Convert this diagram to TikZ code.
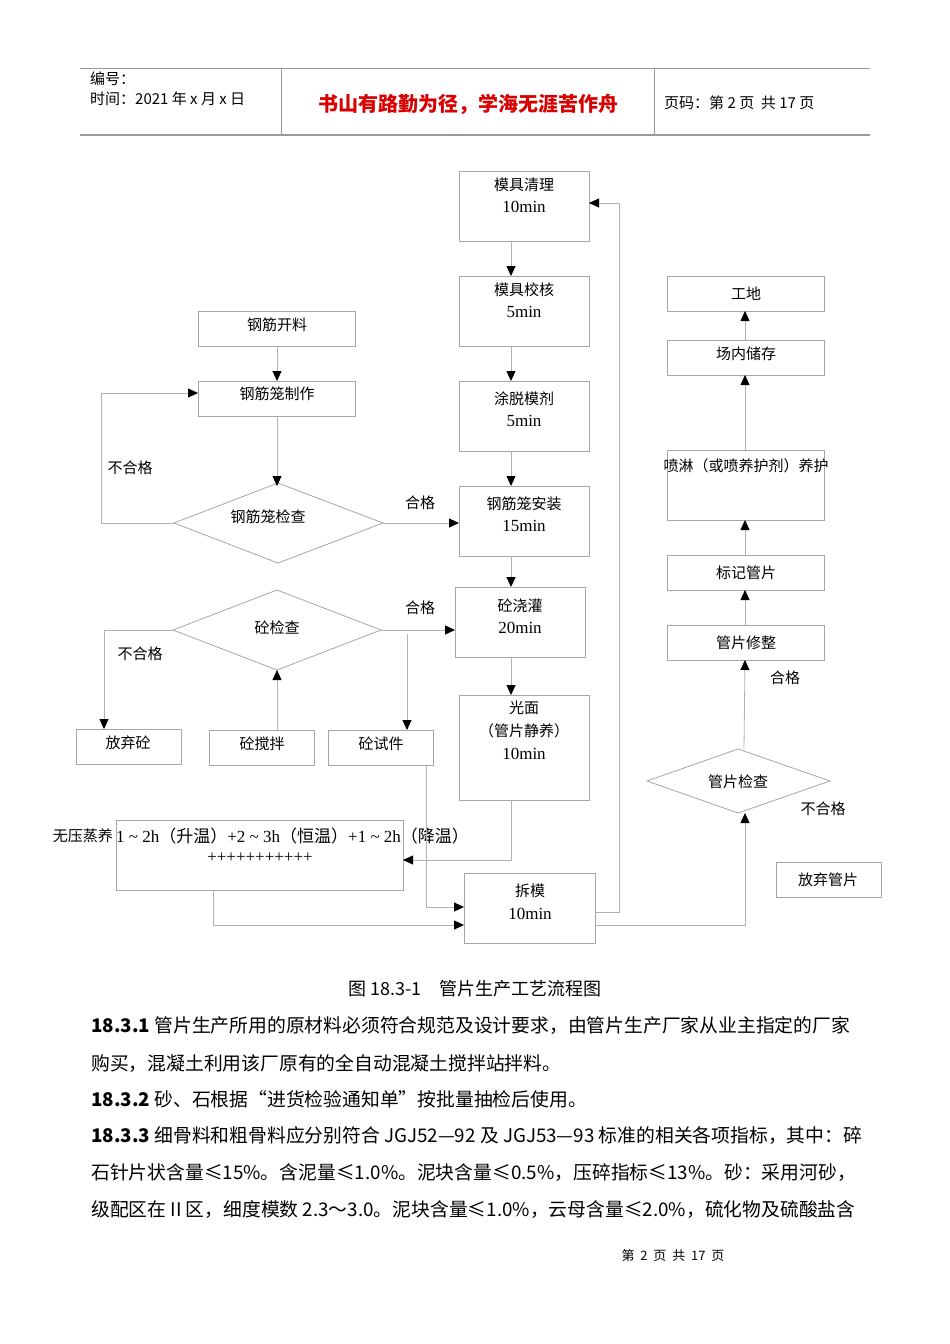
\documentclass[tikz,border=0pt]{standalone}
\usepackage{fontspec}
\setmainfont{Liberation Serif}
\newfontfamily\cjk{Noto Sans CJK SC}
\newfontfamily\cjs{Noto Sans CJK SC}
\usetikzlibrary{arrows.meta}
\begin{document}
\begin{tikzpicture}[x=1pt,y=-1pt,
  bx/.style={draw=gray!70,line width=0.8pt},
  ln/.style={draw=gray!60,line width=0.8pt},
  ar/.style={ln,-{Triangle[length=10pt,width=9pt,fill=black,color=black]}},
  t/.style={font=\cjk\fontsize{15}{18}\selectfont,inner sep=0pt},
  tm/.style={font=\fontsize{17}{20}\selectfont,inner sep=0pt},
  body/.style={font=\cjk\fontsize{18.8}{22}\selectfont,anchor=west,inner sep=0pt}]
\useasboundingbox[fill=white] (0,0) rectangle (950,1344);
% header
\draw[gray!80,line width=1pt] (80,68) -- (870,68);
\draw[gray!80,line width=1.5pt] (80,135) -- (870,135);
\draw[gray!80] (281,68) -- (281,135) (654,68) -- (654,135);
\node[t,anchor=west] (h1) at (90,79) {编号：};
\node[t,anchor=west] (h2) at (90,99) {时间：2021 年 x 月 x 日};
\node[font=\cjk\fontsize{20}{24}\selectfont\bfseries,text=red!85!black,inner sep=0pt] (ht) at (468,104) {书山有路勤为径，学海无涯苦作舟};
\node[t,anchor=west] (h3) at (664,103) {页码：第 2 页 \ 共 17 页};
% main chain
\draw[bx] (459,171) rectangle (589,241);
\node[t] at (524,185) {模具清理}; \node[tm] at (524,207) {10min};
\draw[bx] (459,276) rectangle (589,346);
\node[t] at (524,290) {模具校核}; \node[tm] at (524,312) {5min};
\draw[bx] (459,381) rectangle (589,451);
\node[t] at (524,399) {涂脱模剂}; \node[tm] at (524,421) {5min};
\draw[bx] (459,486) rectangle (589,556);
\node[t] at (524,504) {钢筋笼安装}; \node[tm] at (524,526) {15min};
\draw[bx] (455,587) rectangle (585,657);
\node[t] at (520,606) {砼浇灌}; \node[tm] at (520,628) {20min};
\draw[bx] (459,695) rectangle (589,800);
\node[t] at (524,708) {光面}; \node[t] at (524,731) {（管片静养）}; \node[tm] at (524,754) {10min};
\draw[bx] (464,873) rectangle (595,943);
\node[t] at (530,891) {拆模}; \node[tm] at (530,914) {10min};
\draw[ar] (511,241) -- (511,276);
\draw[ar] (511,346) -- (511,381);
\draw[ar] (511,451) -- (511,486);
\draw[ar] (511,556) -- (511,587);
\draw[ar] (511,657) -- (511,695);
% steam
\draw[bx] (116,820) rectangle (403,890);
\node[t,anchor=east] at (113,836) {无压蒸养};
\node[tm,anchor=west] at (116,836) {1 \textasciitilde\ 2h{\cjk（升温）}+2 \textasciitilde\ 3h{\cjk（恒温）}+1 \textasciitilde\ 2h{\cjk（降温）}};
\node[tm] at (260,858) {+++++++++++};
\draw[ar] (511,800) -- (511,860) -- (403,860);
\draw[ar] (213,890) -- (213,925) -- (464,925);
\draw[ar] (426,765) -- (426,907) -- (464,907);
\draw[ar] (595,912) -- (619,912) -- (619,203) -- (589,203);
\draw[ar] (595,925) -- (745,925) -- (745,813);
% rebar
\draw[bx] (198,311) rectangle (355,346); \node[t] at (277,325) {钢筋开料};
\draw[bx] (198,381) rectangle (355,416); \node[t] at (277,394) {钢筋笼制作};
\draw[bx] (174,523) -- (278,483) -- (383,523) -- (278,563) -- cycle;
\node[t] at (268,517) {钢筋笼检查};
\draw[ar] (277,346) -- (277,381);
\draw[ar] (277,416) -- (277,486);
\draw[ar] (383,523) -- (459,523); \node[t] at (420,503) {合格};
\draw[ar] (174,523) -- (101,523) -- (101,393) -- (198,393); \node[t] at (130,468) {不合格};
% concrete
\draw[bx] (173,630) -- (277,590) -- (381,630) -- (277,670) -- cycle;
\node[t] at (277,628) {砼检查};
\draw[bx] (76,729) rectangle (181,764); \node[t] at (128,743) {放弃砼};
\draw[bx] (209,730) rectangle (314,765); \node[t] at (262,744) {砼搅拌};
\draw[bx] (328,730) rectangle (433,765); \node[t] at (381,744) {砼试件};
\draw[ar] (381,630) -- (455,630); \node[t] at (420,608) {合格};
\draw[ar] (407,634) -- (407,730);
\draw[ar] (173,630) -- (104,630) -- (104,729); \node[t] at (140,654) {不合格};
\draw[ar] (277,730) -- (277,670);
% right column
\draw[bx] (667,276) rectangle (824,311); \node[t] at (746,294) {工地};
\draw[bx] (667,340) rectangle (824,375); \node[t] at (746,354) {场内储存};
\draw[bx] (667,450) rectangle (824,520); \node[t] at (746,466) {喷淋（或喷养护剂）养护};
\draw[bx] (667,555) rectangle (824,590); \node[t] at (746,573) {标记管片};
\draw[bx] (667,625) rectangle (824,660); \node[t] at (746,643) {管片修整};
\draw[bx] (647,781) -- (738,749) -- (830,781) -- (738,813) -- cycle;
\node[t] at (738,782) {管片检查};
\draw[bx] (776,862) rectangle (881,897); \node[t] at (828,880) {放弃管片};
\draw[ar] (745,340) -- (745,311);
\draw[ar] (745,450) -- (745,375);
\draw[ar] (745,555) -- (745,520);
\draw[ar] (745,625) -- (745,590);
\draw[ar] (744,749) -- (745,660);
\node[t] at (785,678) {合格}; \node[t] at (823,809) {不合格};
% caption and body
\node[font=\cjs\fontsize{18}{20}\selectfont,inner sep=0pt] at (475,989) {图 18.3-1\quad 管片生产工艺流程图};
\node[body] at (91,1026) {\textbf{18.3.1} 管片生产所用的原材料必须符合规范及设计要求，由管片生产厂家从业主指定的厂家};
\node[body] at (91,1063) {购买，混凝土利用该厂原有的全自动混凝土搅拌站拌料。};
\node[body] at (91,1099) {\textbf{18.3.2} 砂、石根据“进货检验通知单”按批量抽检后使用。};
\node[body] at (91,1136) {\textbf{18.3.3} 细骨料和粗骨料应分别符合 JGJ52—92 及 JGJ53—93 标准的相关各项指标，其中：碎};
\node[body] at (91,1173) {石针片状含量≤15\%。含泥量≤1.0\%。泥块含量≤0.5\%，压碎指标≤13\%。砂：采用河砂，};
\node[body] at (91,1210) {级配区在 II 区，细度模数 2.3～3.0。泥块含量≤1.0\%，云母含量≤2.0\%，硫化物及硫酸盐含};
\node[font=\cjk\fontsize{13}{15}\selectfont,inner sep=0pt] at (673,1256) {第 \ 2 \ 页 \ 共 \ 17 \ 页};
\end{tikzpicture}
\end{document}
